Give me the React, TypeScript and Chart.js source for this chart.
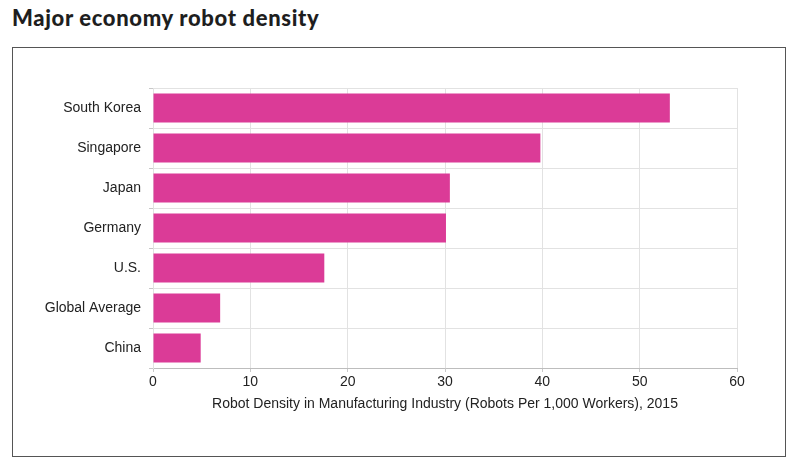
import React, { useEffect, useRef } from "react";
import { Chart, registerables } from "chart.js";

Chart.register(...registerables);

const titleText = "Major economy robot density";
const categories = ["South Korea", "Singapore", "Japan", "Germany", "U.S.", "Global Average", "China"];
const densityValues = [53.1, 39.8, 30.5, 30.1, 17.6, 6.9, 4.9];
const xTickValues = [0, 10, 20, 30, 40, 50, 60];
const xAxisTitle = "Robot Density in Manufacturing Industry (Robots Per 1,000 Workers), 2015";

export default function App() {
  const ref = useRef<HTMLCanvasElement | null>(null);

  useEffect(() => {
    if (!ref.current) return;
    const chart = new Chart(ref.current, {
      type: "bar",
      data: {
        labels: categories,
        datasets: [
          {
            data: densityValues,
            backgroundColor: "#DB3B97",
            borderColor: "#D43590",
            borderWidth: 0,
            barPercentage: 0.72,
            categoryPercentage: 1,
          },
        ],
      },
      options: {
        indexAxis: "y",
        responsive: false,
        animation: false,
        layout: { padding: { left: 0, top: 88, right: 63, bottom: 0 } },
        plugins: { legend: { display: false }, tooltip: { enabled: false }, title: { display: false } },
        scales: {
          x: {
            min: xTickValues[0],
            max: xTickValues[xTickValues.length - 1],
            afterFit: (s: any) => { s.height = 100; },
            afterBuildTicks: (s: any) => { s.ticks = xTickValues.map((v) => ({ value: v })); },
            grid: { color: "#e2e2e2", lineWidth: 1, tickLength: 4, tickColor: "#c8c8c8" },
            border: { color: "#bdbdbd", width: 1 },
            ticks: {
              color: "#222",
              font: { family: "'Liberation Sans', Arial, sans-serif", size: 14 },
              padding: 2,
              maxRotation: 0,
            },
            title: {
              display: true,
              text: xAxisTitle,
              color: "#222",
              font: { family: "'Liberation Sans', Arial, sans-serif", size: 14 },
              padding: { top: 0, bottom: 55 },
            },
          },
          y: {
            afterFit: (s: any) => { s.width = 153; },
            grid: { color: "#e2e2e2", lineWidth: 1, tickLength: 4, tickColor: "#c8c8c8", offset: true },
            border: { color: "#e2e2e2", width: 1 },
            ticks: {
              color: "#222",
              font: { family: "'Liberation Sans', Arial, sans-serif", size: 14 },
              padding: 8,
            },
          },
        },
      },
    });
    return () => chart.destroy();
  }, []);

  return (
    <div style={{ position: "absolute", left: 0, top: 0, width: 800, height: 468, background: "#fff", overflow: "hidden" }}>
      <div
        style={{
          position: "absolute",
          left: 12,
          top: 7,
          fontFamily: "Lato, 'Open Sans', sans-serif",
          fontWeight: 900,
          fontSize: 22,
          lineHeight: "22px",
          color: "#1e1e1e",
          whiteSpace: "nowrap",
          letterSpacing: 0.65,
        }}
      >
        {titleText}
      </div>
      <div
        style={{
          position: "absolute",
          left: 12,
          top: 47,
          width: 772,
          height: 408,
          border: "1.5px solid #555",
        }}
      />
      <canvas ref={ref} width={800} height={468} style={{ position: "absolute", left: 0, top: 0 }} />
    </div>
  );
}
